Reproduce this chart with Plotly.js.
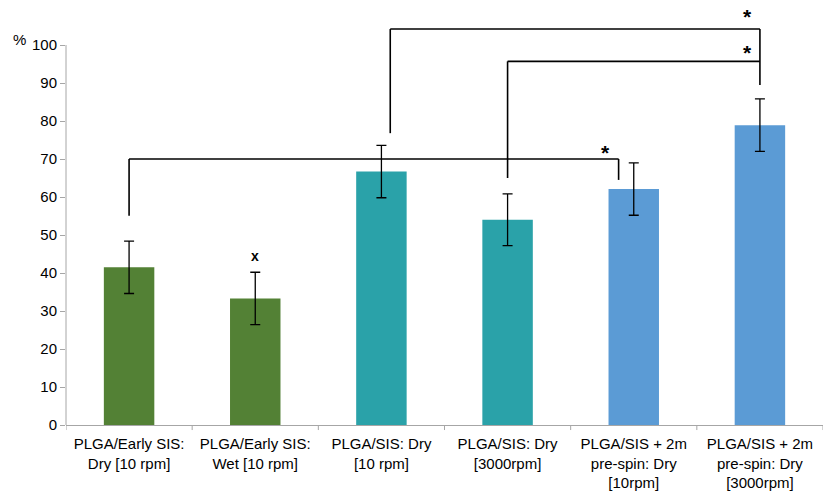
<!DOCTYPE html>
<html>
<head>
<meta charset="utf-8">
<script src="https://cdn.plot.ly/plotly-3.0.1.min.js"></script>
<style>
  html, body { margin: 0; padding: 0; background: #ffffff; }
  #chart { width: 825px; height: 493px; }
</style>
</head>
<body>
<div id="chart"></div>
<script>
// Group labels (x axis)
const categories = [
  "PLGA/Early SIS:<br>Dry [10 rpm]",
  "PLGA/Early SIS:<br>Wet [10 rpm]",
  "PLGA/SIS: Dry<br>[10 rpm]",
  "PLGA/SIS: Dry<br>[3000rpm]",
  "PLGA/SIS + 2m<br>pre-spin: Dry<br>[10rpm]",
  "PLGA/SIS + 2m<br>pre-spin: Dry<br>[3000rpm]"
];
// Mean values (%) and standard deviations
const means = [41.5, 33.3, 66.7, 54.0, 62.1, 78.9];
const errors = [6.9, 6.9, 6.9, 6.8, 6.9, 6.9];
const barColors = ["#538135", "#538135", "#2aa2a9", "#2aa2a9", "#5b9bd5", "#5b9bd5"];

// Y axis ticks
const yTicks = [0, 10, 20, 30, 40, 50, 60, 70, 80, 90, 100];

// Significance brackets: [x, y] points of each polyline (x = group index)
const bracketA = [[0, 55.1], [0, 70.0], [3.88, 70.0], [3.88, 64.5]];
const bracketB = [[2.07, 76.8], [2.07, 104.2], [5, 104.2], [5, 89.5]];
const bracketC = [[3, 65.0], [3, 95.7], [5, 95.7]];
// Markers placed above brackets / bars: [x, y, text]
const marks = [
  [3.78, 72.4, "*"],
  [4.90, 108.4, "*"],
  [4.90, 98.8, "*"],
  [1, 44.5, "x"]
];

const font = "Liberation Sans, Arial, sans-serif";

const shapes = [];
function addPolyline(pts) {
  for (let i = 0; i < pts.length - 1; i++) {
    shapes.push({
      type: "line", xref: "x", yref: "y",
      x0: pts[i][0], y0: pts[i][1], x1: pts[i + 1][0], y1: pts[i + 1][1],
      line: { color: "#000000", width: 1.6 }
    });
  }
}
[bracketA, bracketB, bracketC].forEach(addPolyline);

// Y axis line only spans the 0–100 scale
shapes.push({
  type: "line", xref: "paper", yref: "y",
  x0: 0, x1: 0, y0: 0, y1: yTicks[yTicks.length - 1],
  line: { color: "#a6a6a6", width: 1 }
});

const annotations = marks.map(m => ({
  x: m[0], y: m[1], xref: "x", yref: "y",
  text: "<b>" + m[2] + "</b>", showarrow: false,
  yshift: m[2] === "*" ? -3 : 0,
  font: { family: font, size: m[2] === "*" ? 21 : 14, color: "#000000" }
}));
annotations.push({
  xref: "paper", yref: "paper", x: -0.062, y: 0.917,
  xanchor: "center", yanchor: "middle",
  text: "%", showarrow: false,
  font: { family: font, size: 15, color: "#000000" }
});

const trace = {
  type: "bar",
  x: categories.map((c, i) => i),
  y: means,
  width: 0.4,
  marker: { color: barColors },
  error_y: {
    type: "data", array: errors, visible: true,
    color: "#000000", thickness: 1.3, width: 5
  },
  hoverinfo: "none"
};

const layout = {
  width: 825, height: 493,
  margin: { l: 66, r: 2, t: 5, b: 68 },
  paper_bgcolor: "#ffffff", plot_bgcolor: "#ffffff",
  showlegend: false,
  font: { family: font, size: 14, color: "#000000" },
  xaxis: {
    type: "linear",
    range: [-0.5, 5.5],
    tickvals: categories.map((c, i) => i),
    ticktext: categories,
    ticks: "",
    ticklabelstandoff: 5,
    showline: true, linecolor: "#a6a6a6", linewidth: 1,
    showgrid: false, zeroline: false,
    tickfont: { family: font, size: 15, color: "#000000" }
  },
  yaxis: {
    range: [0, 110.53],
    tickvals: yTicks,
    ticks: "outside", ticklen: 5, tickcolor: "#a6a6a6", tickwidth: 1,
    showline: false, showgrid: false, zeroline: false,
    tickfont: { family: font, size: 15, color: "#000000" }
  },
  shapes: shapes,
  annotations: annotations
};

// Boundary ticks between groups on the x axis
for (let i = 0; i <= categories.length; i++) {
  shapes.push({
    type: "line", xref: "x", yref: "paper",
    x0: i - 0.5, x1: i - 0.5, y0: 0, y1: -0.012,
    line: { color: "#a6a6a6", width: 1 }
  });
}

Plotly.newPlot("chart", [trace], layout, { staticPlot: true, displayModeBar: false });
</script>
</body>
</html>
